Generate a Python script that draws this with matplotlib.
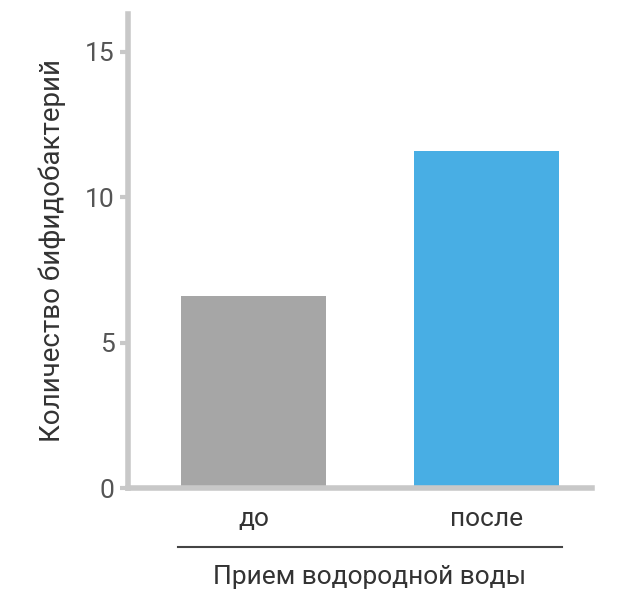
import matplotlib
matplotlib.use("Agg")
import matplotlib.pyplot as plt
from matplotlib.lines import Line2D

categories = ["до", "после"]
values = [6.6, 11.6]
colors = ["#a6a6a6", "#48aee4"]
yticks = [0, 5, 10, 15]
ylabel = "Количество бифидобактерий"
group_label = "Прием водородной воды"

plt.rcParams['font.family'] = ['Roboto', 'DejaVu Sans']
fig = plt.figure(figsize=(6.17, 6.06), dpi=100)
ax = fig.add_axes([0.2075, 0.1947, 0.752, 0.7823])
x = range(len(categories))
ax.bar(x, values, width=0.62, color=colors)
ax.set_xlim(-0.539, 1.453)
ax.set_ylim(0, 16.3)
ax.set_yticks(yticks)
ax.set_xticks(list(x))
ax.set_xticklabels(categories, fontsize=19, color="#333333")
ax.tick_params(axis='x', length=0, pad=14)
ax.tick_params(axis='y', labelsize=19, labelcolor="#555555", color="#c8c8c8", length=6, width=3)
for s in ["top", "right"]:
    ax.spines[s].set_visible(False)
for s in ["left", "bottom"]:
    ax.spines[s].set_color("#c8c8c8")
    ax.spines[s].set_linewidth(4)
ax.set_ylabel(ylabel, fontsize=20, color="#333333", labelpad=14)
fig.add_artist(Line2D([178/617, 562/617], [1-547/606, 1-547/606], color="#444444", lw=1.5))
fig.text(370/617, 1-577/606, group_label, ha="center", va="center", fontsize=19, color="#333333")
fig.savefig("out.png", dpi=100)
